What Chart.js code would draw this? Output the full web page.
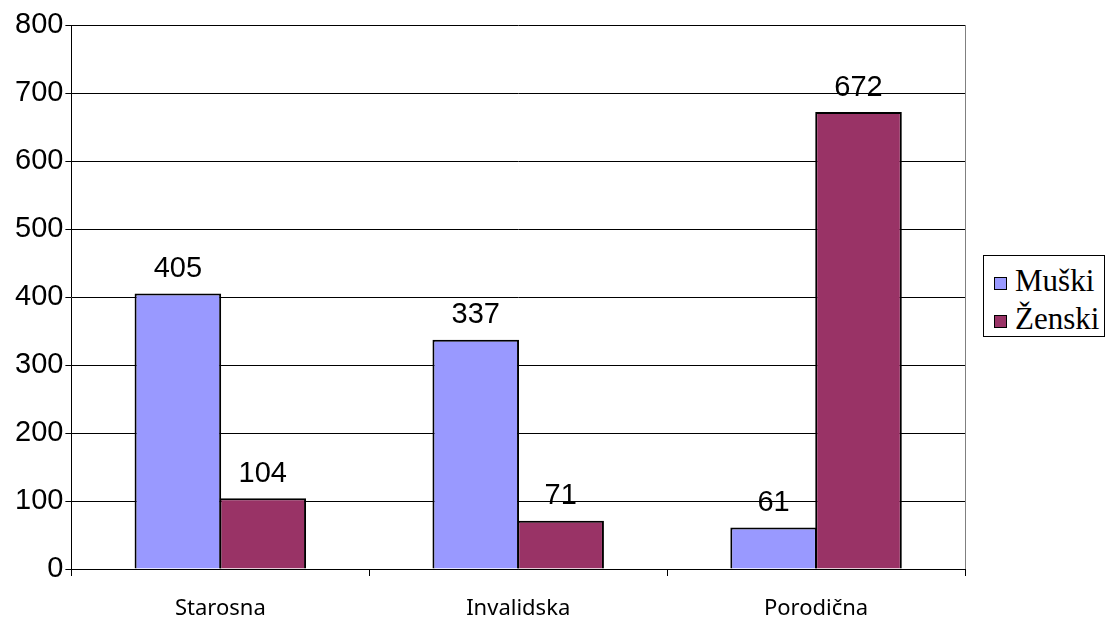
<!DOCTYPE html>
<html>
<head>
<meta charset="utf-8">
<script src="https://cdn.jsdelivr.net/npm/chart.js"></script>
<style>
  html, body { margin: 0; padding: 0; background: #fff; }
  #wrap { position: relative; width: 1106px; height: 618px; }
  #legend {
    position: absolute; left: 983px; top: 255px; width: 122px; height: 82px;
    border: 1px solid #000; box-sizing: border-box; background: #fff;
    font-family: "Liberation Serif", serif; font-size: 31px; color: #000;
  }
  .item { position: absolute; left: 10px; height: 36px; line-height: 36px; white-space: nowrap; }
  .sw { display: inline-block; width: 13px; height: 13px; border: 1px solid #000; box-sizing: border-box; margin-right: 8px; vertical-align: 1px; }
</style>
</head>
<body>
<div id="wrap">
  <canvas id="barChart" width="1106" height="618"></canvas>
  <div id="legend"></div>
</div>
<script>
// Chart data
var categories = ["Starosna", "Invalidska", "Porodična"];
var muski = [405, 337, 61];
var zenski = [104, 71, 672];
var seriesNames = ["Muški", "Ženski"];
var seriesColors = ["#9999FF", "#993366"];

// Draw value above each bar
var valueLabels = {
  id: 'valueLabels',
  afterDatasetsDraw: function (chart) {
    var ctx = chart.ctx;
    ctx.save();
    ctx.font = '29px "Liberation Sans", Arial, sans-serif';
    ctx.fillStyle = '#000';
    ctx.textAlign = 'center';
    ctx.textBaseline = 'bottom';
    chart.data.datasets.forEach(function (ds, i) {
      chart.getDatasetMeta(i).data.forEach(function (bar, j) {
        ctx.fillText(ds.data[j], bar.x, bar.y - 10);
      });
    });
    ctx.restore();
  }
};

// Right border of the plot area
var plotBorder = {
  id: 'plotBorder',
  afterDraw: function (chart) {
    var a = chart.chartArea, ctx = chart.ctx;
    ctx.save();
    ctx.strokeStyle = '#808080';
    ctx.lineWidth = 1;
    ctx.beginPath();
    ctx.moveTo(Math.round(a.right) + 0.5, a.top);
    ctx.lineTo(Math.round(a.right) + 0.5, a.bottom);
    ctx.stroke();
    ctx.restore();
  }
};

var ctx = document.getElementById("barChart");
var barChart = new Chart(ctx, {
  type: 'bar',
  data: {
    labels: categories,
    datasets: [
      {
        label: seriesNames[0],
        data: muski,
        backgroundColor: seriesColors[0],
        borderColor: "#000",
        borderWidth: 2
      },
      {
        label: seriesNames[1],
        data: zenski,
        backgroundColor: seriesColors[1],
        borderColor: "#000",
        borderWidth: 2
      }
    ]
  },
  options: {
    responsive: false,
    animation: false,
    layout: { padding: { left: 13, right: 141, top: 25, bottom: 0 } },
    plugins: {
      legend: { display: false },
      tooltip: { enabled: false }
    },
    datasets: {
      bar: { categoryPercentage: 0.57, barPercentage: 1.02 }
    },
    scales: {
      x: {
        afterFit: function (scale) { scale.height = 49; },
        grid: {
          offset: true,
          drawOnChartArea: false,
          color: '#000',
          tickLength: 7
        },
        border: { color: '#000', width: 1 },
        ticks: {
          color: '#000',
          padding: 20,
          font: { family: '"Noto Sans", sans-serif', size: 22 }
        }
      },
      y: {
        min: 0,
        max: 800,
        grid: {
          color: '#000',
          tickLength: 6
        },
        border: { color: '#000', width: 1 },
        ticks: {
          stepSize: 100,
          color: '#000',
          padding: 2,
          font: { family: '"Liberation Sans", Arial, sans-serif', size: 29 }
        }
      }
    }
  },
  plugins: [valueLabels, plotBorder]
});

// Legend
var legend = document.getElementById("legend");
seriesNames.forEach(function (name, i) {
  var item = document.createElement("div");
  item.className = "item";
  item.style.top = (7 + i * 38) + "px";
  item.innerHTML = '<span class="sw" style="background:' + seriesColors[i] + '"></span>' + name;
  legend.appendChild(item);
});
</script>
</body>
</html>
